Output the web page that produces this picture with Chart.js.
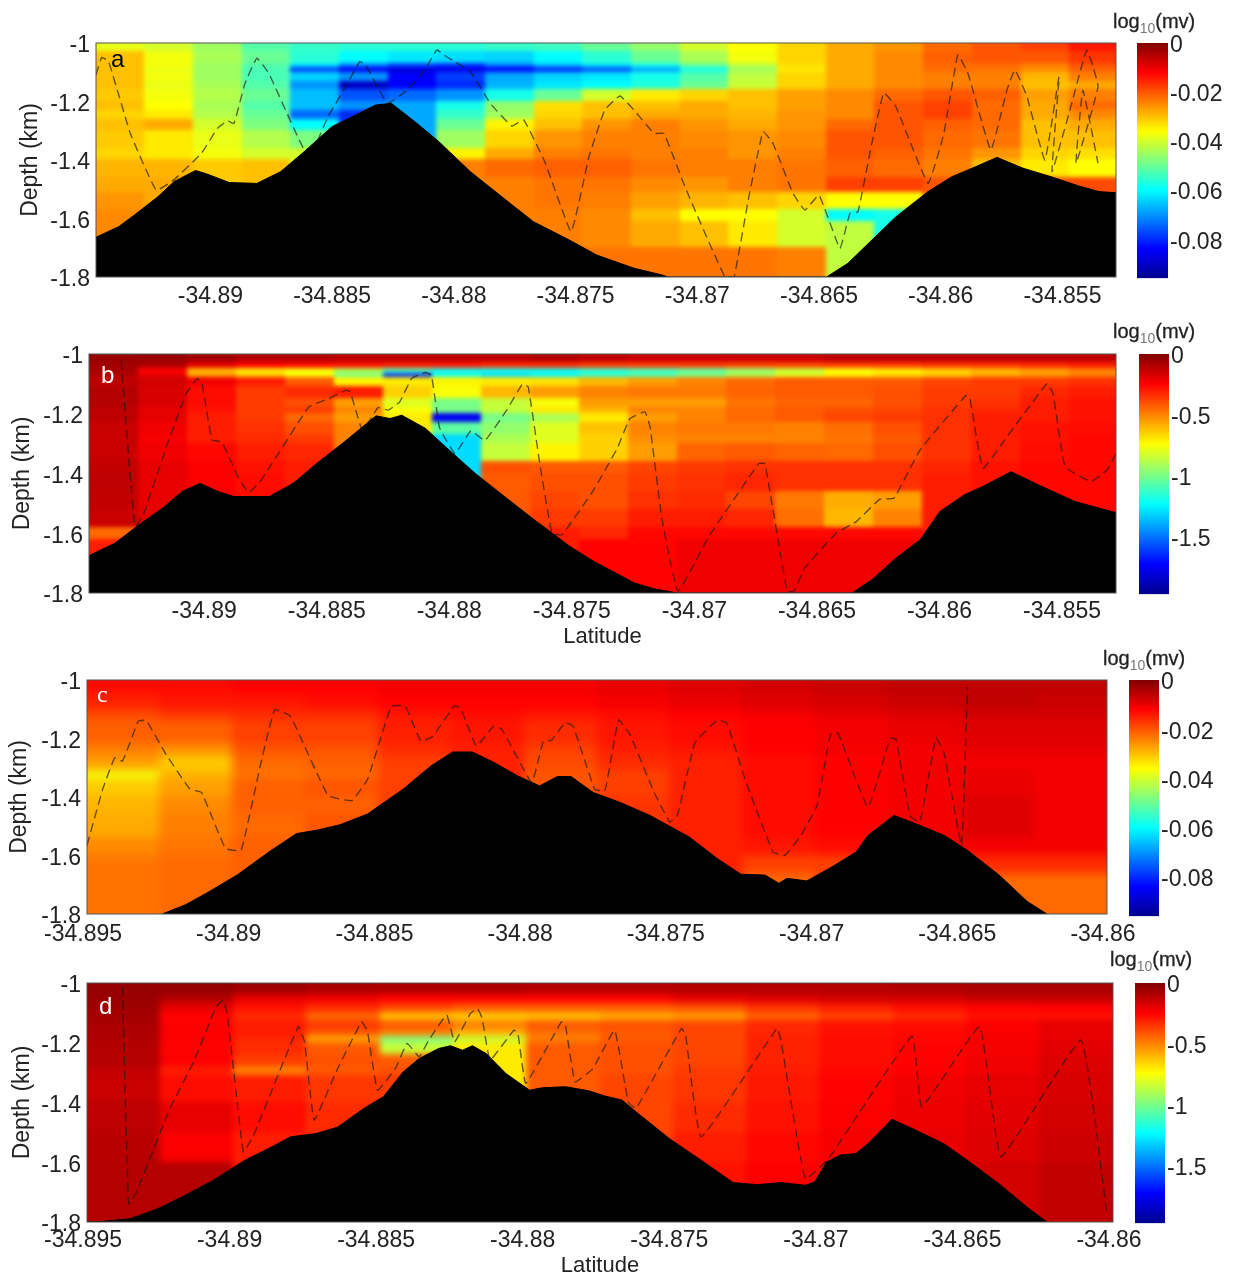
<!DOCTYPE html>
<html lang="en">
<head>
<meta charset="UTF-8">
<title>Depth sections</title>
<script src="https://cdn.jsdelivr.net/npm/chart.js"></script>
<style>
  body { margin: 0; background: #fff; width: 1233px; height: 1276px; position: relative; overflow: hidden; font-family: "Liberation Sans", sans-serif; }
  canvas { position: absolute; }
  .unit { position: absolute; font-size: 20px; line-height: 24px; color: #222; -webkit-text-stroke: 0.3px #222; white-space: nowrap; }
  .unit sub { font-size: 14px; line-height: 0; color: #777; -webkit-text-stroke: 0; }
  .tag { position: absolute; font-size: 24px; line-height: 24px; }
</style>
</head>
<body>
<canvas id="panelA"></canvas><canvas id="barA"></canvas>
<canvas id="panelB"></canvas><canvas id="barB"></canvas>
<canvas id="panelC"></canvas><canvas id="barC"></canvas>
<canvas id="panelD"></canvas><canvas id="barD"></canvas>

<div class="unit" style="left:1113px;top:9px">log<sub>10</sub>(mv)</div>
<div class="unit" style="left:1113px;top:319px">log<sub>10</sub>(mv)</div>
<div class="unit" style="left:1103px;top:646px">log<sub>10</sub>(mv)</div>
<div class="unit" style="left:1110px;top:947px">log<sub>10</sub>(mv)</div>
<div class="tag" style="left:111px;top:47px;color:#000">a</div>
<div class="tag" style="left:101px;top:363px;color:#fff">b</div>
<div class="tag" style="left:97px;top:682px;color:#fff;font-family:'Liberation Serif',serif">c</div>
<div class="tag" style="left:99px;top:994px;color:#fff">d</div>

<script>
  // eixos
  const latTicksAB = [-34.89, -34.885, -34.88, -34.875, -34.87, -34.865, -34.86, -34.855];
  const latTicksCD = [-34.895, -34.89, -34.885, -34.88, -34.875, -34.87, -34.865, -34.86];
  const depthTicks = [-1, -1.2, -1.4, -1.6, -1.8];
  const barTicksSmall = [0, -0.02, -0.04, -0.06, -0.08];
  const barTicksLarge = [0, -0.5, -1, -1.5];
  const jetColors = ['#00008f', '#0000ff', '#00ffff', '#ffff00', '#ff0000', '#800000'];
  const jetStops = [0, 0.125, 0.375, 0.625, 0.875, 1];

  // colunas do mapa de cor
  const heatLatsAB = [-34.8947, -34.8927, -34.8907, -34.8887, -34.8867, -34.8847, -34.8827, -34.8807, -34.8787, -34.8767, -34.8747, -34.8727, -34.8707, -34.8687, -34.8667, -34.8647, -34.8627, -34.8607, -34.8587, -34.8567, -34.8547, -34.8527];
  const heatLatsCD = [-34.895, -34.8925, -34.89, -34.8875, -34.885, -34.8825, -34.88, -34.8775, -34.875, -34.8725, -34.87, -34.8675, -34.865, -34.8625, -34.86];

  const _ = null; // fica embaixo do relevo

  const heatDepthsA = [-1, -1.03, -1.07, -1.085, -1.1, -1.13, -1.16, -1.2, -1.23, -1.26, -1.3, -1.36, -1.4, -1.46, -1.51, -1.57, -1.61, -1.7, -1.8];
  const heatA = [
    [-.038,-.04,-.045,-.052,-.055,-.056,-.056,-.056,-.055,-.054,-.05,-.046,-.04,-.036,-.032,-.028,-.026,-.022,-.02,-.018,-.014],
    [-.03,-.037,-.044,-.05,-.056,-.06,-.062,-.063,-.064,-.06,-.056,-.05,-.044,-.037,-.032,-.028,-.025,-.021,-.02,-.02,-.017],
    [-.03,-.037,-.045,-.052,-.062,-.072,-.078,-.08,-.072,-.066,-.062,-.058,-.05,-.042,-.033,-.028,-.025,-.022,-.022,-.024,-.02],
    [-.03,-.038,-.045,-.053,-.078,-.085,-.088,-.086,-.084,-.08,-.076,-.068,-.058,-.045,-.034,-.028,-.025,-.022,-.023,-.025,-.021],
    [-.03,-.037,-.045,-.053,-.064,-.07,-.084,-.078,-.068,-.064,-.062,-.058,-.052,-.042,-.032,-.028,-.025,-.024,-.024,-.029,-.024],
    [-.03,-.038,-.044,-.052,-.07,-.09,-.084,-.08,-.067,-.062,-.06,-.057,-.05,-.041,-.032,-.028,-.025,-.024,-.024,-.03,-.028],
    [-.031,-.037,-.043,-.05,-.066,-.076,-.074,-.07,-.058,-.05,-.04,-.034,-.032,-.03,-.027,-.025,-.022,-.02,-.021,-.027,-.024],
    [-.03,-.036,-.044,-.052,-.066,-.07,-.068,-.058,-.046,-.033,-.03,-.03,-.028,-.03,-.027,-.025,-.02,-.018,-.022,-.028,-.022],
    [-.032,-.034,-.043,-.05,-.074,-.08,_,-.055,-.045,-.032,-.03,-.028,-.028,-.029,-.026,-.025,-.02,-.018,-.022,-.028,-.025],
    [-.03,-.028,-.04,-.048,-.06,_,_,-.05,-.035,-.03,-.026,-.024,-.026,-.028,-.026,-.022,-.02,-.021,-.022,-.03,-.028],
    [-.031,-.034,-.038,-.043,-.048,_,_,-.045,-.032,-.026,-.024,-.024,-.025,-.026,-.025,-.02,-.02,-.022,-.023,-.03,-.03],
    [-.032,-.034,-.037,-.04,-.04,_,_,-.035,-.028,-.024,-.023,-.024,-.024,-.026,-.024,-.02,-.021,-.023,-.026,-.032,-.033],
    [-.029,-.029,-.031,-.03,_,_,_,-.024,-.022,-.021,-.021,-.023,-.024,-.024,-.023,-.021,-.022,-.024,-.03,-.034,-.036],
    [-.028,-.028,_,_,_,_,_,_,-.024,-.023,-.023,-.025,-.026,-.024,-.023,-.018,-.018,-.02,_,-.02,-.019],
    [-.026,_,_,_,_,_,_,_,_,-.023,-.024,-.027,-.029,-.03,-.032,-.036,-.036,_,_,_,_],
    [-.025,_,_,_,_,_,_,_,_,-.024,-.025,-.03,-.036,-.036,-.04,-.06,-.058,_,_,_,_],
    [-.025,_,_,_,_,_,_,_,_,_,-.025,-.028,-.03,-.034,-.04,-.042,_,_,_,_,_],
    [_,_,_,_,_,_,_,_,_,_,-.023,-.023,-.023,-.023,-.024,_,_,_,_,_,_]
  ];

  const heatDepthsB = [-1, -1.03, -1.05, -1.065, -1.08, -1.11, -1.15, -1.18, -1.2, -1.23, -1.27, -1.3, -1.36, -1.4, -1.46, -1.52, -1.58, -1.62, -1.8];
  const heatB = [
    [-.05,-.05,-.07,-.1,-.1,-.12,-.12,-.12,-.12,-.1,-.12,-.15,-.15,-.15,-.15,-.12,-.12,-.12,-.12,-.12,-.12],
    [-.07,-.09,-.2,-.25,-.27,-.28,-.3,-.3,-.33,-.33,-.36,-.36,-.36,-.38,-.38,-.36,-.36,-.34,-.34,-.32,-.3],
    [-.08,-.25,-.6,-.7,-.75,-.9,-1.1,-1.2,-1.2,-1.2,-1.15,-1.1,-1.05,-.95,-.85,-.75,-.7,-.65,-.6,-.55,-.5],
    [-.1,-.2,-.55,-.65,-.75,-1,-1.65,-1.2,-1.3,-1.25,-1.15,-1.1,-1,-.9,-.8,-.72,-.68,-.65,-.58,-.55,-.5],
    [-.12,-.16,-.22,-.3,-.42,-.72,-.7,-.72,-.7,-.68,-.6,-.55,-.5,-.45,-.42,-.42,-.42,-.38,-.36,-.36,-.34],
    [-.1,-.17,-.27,-.36,-.33,-.3,-.65,-.75,-.6,-.55,-.5,-.48,-.48,-.44,-.42,-.42,-.4,-.36,-.36,-.32,-.3],
    [-.1,-.17,-.27,-.36,-.4,-.55,-.8,-1,-.85,-.75,-.55,-.55,-.55,-.47,-.44,-.44,-.4,-.36,-.34,-.3,-.28],
    [-.12,-.2,-.28,-.36,-.36,-.5,-.75,-1,-.85,-.7,-.6,-.5,-.5,-.45,-.42,-.4,-.38,-.34,-.32,-.3,-.28],
    [-.12,-.2,-.3,-.36,-.45,-.55,-.7,-1.75,-1,-.9,-.7,-.55,-.5,-.45,-.42,-.38,-.36,-.34,-.3,-.3,-.28],
    [-.14,-.22,-.3,-.34,-.4,-.5,_,-1.05,-.95,-.8,-.62,-.5,-.48,-.48,-.5,-.46,-.4,-.34,-.3,-.28,-.27],
    [-.14,-.23,-.3,-.33,-.36,_,_,-1.3,-.9,-.8,-.65,-.52,-.5,-.5,-.5,-.47,-.42,-.34,-.3,-.28,-.26],
    [-.14,-.22,-.26,-.3,-.32,_,_,_,-.85,-.72,-.65,-.55,-.44,-.42,-.44,-.45,-.4,-.34,-.3,-.27,-.26],
    [-.13,-.2,-.24,-.28,-.3,_,_,_,-.4,-.42,-.42,-.38,-.36,-.34,-.34,-.34,-.34,-.32,-.28,-.26,-.26],
    [-.12,-.2,-.24,-.27,_,_,_,_,-.42,-.4,-.4,-.36,-.34,-.32,-.34,-.34,-.34,-.3,_,-.26,-.26],
    [-.13,-.2,_,_,_,_,_,_,-.42,-.38,-.4,-.34,-.33,-.38,-.48,-.58,-.55,_,_,_,-.26],
    [-.14,_,_,_,_,_,_,_,_,-.36,-.36,-.3,-.3,-.32,-.46,-.6,-.5,_,_,_,_],
    [-.45,_,_,_,_,_,_,_,_,-.3,-.32,-.26,-.26,-.26,-.26,-.26,-.26,_,_,_,_],
    [-.3,_,_,_,_,_,_,_,_,_,-.25,-.25,-.22,-.22,-.22,-.22,-.22,_,_,_,_]
  ];

  const heatDepthsC = [-1, -1.05, -1.1, -1.14, -1.22, -1.26, -1.31, -1.34, -1.4, -1.46, -1.54, -1.6, -1.66, -1.8];
  const heatC = [
    [-.013,-.013,-.012,-.012,-.011,-.011,-.011,-.01,-.009,-.008,-.007,-.006,-.006,-.006],
    [-.015,-.014,-.014,-.013,-.012,-.012,-.012,-.011,-.01,-.009,-.008,-.007,-.006,-.007],
    [-.019,-.017,-.016,-.016,-.014,-.013,-.014,-.013,-.012,-.011,-.01,-.009,-.008,-.008],
    [-.021,-.021,-.018,-.018,-.015,-.014,-.016,-.014,-.013,-.012,-.011,-.01,-.009,-.009],
    [-.024,-.026,-.02,-.02,-.016,-.015,-.018,-.015,-.014,-.012,-.011,-.011,-.01,-.01],
    [-.027,-.031,-.022,-.021,-.018,_,-.019,-.016,-.015,-.013,-.012,-.011,-.011,-.011],
    [-.037,-.029,-.023,-.022,-.018,_,-.02,-.018,-.015,-.013,-.012,-.011,-.01,-.011],
    [-.031,-.027,-.021,-.02,_,_,_,-.018,-.015,-.013,-.012,-.011,-.01,-.011],
    [-.029,-.025,-.021,-.021,_,_,_,-.017,-.015,-.013,-.012,-.011,-.009,-.011],
    [-.028,-.024,-.022,-.02,_,_,_,_,-.015,-.013,-.012,-.011,-.009,-.011],
    [-.025,-.023,-.021,_,_,_,_,_,-.015,-.014,-.013,_,-.011,-.011],
    [-.023,-.022,_,_,_,_,_,_,_,-.018,-.018,_,-.016,-.016],
    [-.023,-.022,_,_,_,_,_,_,_,-.022,_,_,-.022,-.022]
  ];

  const heatDepthsD = [-1, -1.04, -1.07, -1.1, -1.125, -1.16, -1.18, -1.2, -1.24, -1.28, -1.31, -1.4, -1.5, -1.6, -1.8];
  const heatD = [
    [-.04,-.04,-.06,-.08,-.09,-.09,-.1,-.1,-.1,-.1,-.1,-.09,-.08,-.08],
    [-.05,-.1,-.2,-.22,-.25,-.25,-.25,-.25,-.2,-.18,-.16,-.16,-.14,-.14],
    [-.06,-.2,-.28,-.33,-.38,-.42,-.42,-.42,-.4,-.34,-.3,-.27,-.25,-.24],
    [-.07,-.25,-.33,-.45,-.62,-.64,-.62,-.58,-.55,-.44,-.38,-.33,-.28,-.28],
    [-.08,-.24,-.3,-.36,-.42,-.5,-.42,-.4,-.38,-.32,-.28,-.27,-.24,-.2],
    [-.09,-.24,-.3,-.42,-.5,-.6,-.46,-.42,-.38,-.32,-.28,-.26,-.24,-.2],
    [-.09,-.24,-.32,-.58,-1,-.85,-.5,-.42,-.38,-.31,-.27,-.26,-.23,-.2],
    [-.1,-.25,-.33,-.42,-.85,-.7,-.42,-.4,-.38,-.31,-.27,-.25,-.23,-.19],
    [-.1,-.24,-.36,-.4,-.42,_,-.42,-.4,-.38,-.31,-.27,-.25,-.22,-.18],
    [-.13,-.3,-.5,-.42,-.4,_,_,-.4,-.36,-.3,-.26,-.24,-.22,-.18],
    [-.14,-.27,-.3,-.35,-.36,_,_,-.38,-.35,-.29,-.25,-.22,-.2,-.17],
    [-.12,-.2,-.27,-.33,_,_,_,_,-.33,-.28,-.24,-.21,-.19,-.16],
    [-.11,-.24,-.3,_,_,_,_,_,-.3,-.26,-.23,-.2,-.18,-.15],
    [-.1,-.1,_,_,_,_,_,_,-.28,-.24,-.22,-.2,-.16,-.13]
  ];

  // relevo
  const terrainLatA = [-34.8947,-34.89377,-34.89312,-34.89215,-34.8915,-34.89061,-34.8902,-34.88923,-34.88809,-34.88712,-34.88614,-34.88501,-34.88403,-34.88322,-34.88257,-34.8816,-34.88062,-34.87932,-34.87786,-34.87673,-34.87527,-34.87413,-34.8726,-34.87145,-34.8712,-34.86469,-34.86381,-34.86282,-34.86184,-34.86052,-34.85954,-34.85857,-34.85769,-34.85662,-34.85547,-34.85432,-34.8535,-34.8528];
  const terrainDepthA = [-1.664,-1.628,-1.588,-1.525,-1.474,-1.436,-1.446,-1.477,-1.48,-1.44,-1.371,-1.286,-1.246,-1.212,-1.206,-1.269,-1.337,-1.44,-1.537,-1.611,-1.673,-1.725,-1.77,-1.793,-1.8,-1.8,-1.753,-1.673,-1.594,-1.508,-1.457,-1.423,-1.391,-1.428,-1.457,-1.489,-1.508,-1.512];
  const terrainLatB = [-34.8947,-34.89363,-34.89267,-34.8917,-34.8909,-34.89017,-34.88944,-34.8888,-34.88734,-34.88637,-34.8854,-34.88428,-34.88299,-34.88242,-34.88194,-34.88097,-34.88008,-34.87895,-34.87766,-34.87653,-34.87508,-34.87411,-34.87246,-34.87165,-34.8707,-34.86357,-34.86275,-34.86178,-34.86079,-34.85998,-34.859,-34.8582,-34.85708,-34.85594,-34.85447,-34.8528];
  const terrainDepthB = [-1.675,-1.633,-1.572,-1.516,-1.46,-1.433,-1.46,-1.477,-1.477,-1.433,-1.366,-1.294,-1.207,-1.216,-1.205,-1.249,-1.316,-1.399,-1.483,-1.555,-1.644,-1.694,-1.766,-1.786,-1.8,-1.8,-1.755,-1.683,-1.622,-1.527,-1.472,-1.442,-1.394,-1.439,-1.494,-1.531];
  const terrainLatC = [-34.89242,-34.89161,-34.8908,-34.88985,-34.88876,-34.88781,-34.88713,-34.88632,-34.88537,-34.88415,-34.8832,-34.88245,-34.88178,-34.88103,-34.88022,-34.87947,-34.87886,-34.87839,-34.87764,-34.87672,-34.87568,-34.87433,-34.87338,-34.87256,-34.87173,-34.87126,-34.87098,-34.8703,-34.86942,-34.86861,-34.8682,-34.86731,-34.86642,-34.86559,-34.86479,-34.8637,-34.86274,-34.86206];
  const terrainDepthC = [-1.8,-1.768,-1.723,-1.667,-1.588,-1.525,-1.514,-1.495,-1.458,-1.373,-1.294,-1.246,-1.246,-1.282,-1.328,-1.362,-1.33,-1.33,-1.384,-1.418,-1.463,-1.537,-1.61,-1.664,-1.667,-1.695,-1.678,-1.687,-1.638,-1.588,-1.531,-1.463,-1.497,-1.531,-1.582,-1.667,-1.757,-1.8];
  const terrainLatD = [-34.895,-34.89446,-34.89352,-34.89257,-34.89176,-34.89069,-34.88961,-34.8888,-34.88806,-34.88718,-34.88644,-34.88556,-34.88489,-34.88421,-34.88367,-34.883,-34.8826,-34.88219,-34.88185,-34.88138,-34.88071,-34.8799,-34.87949,-34.87868,-34.87788,-34.87734,-34.87675,-34.8762,-34.87513,-34.87405,-34.87296,-34.87214,-34.87132,-34.8705,-34.87018,-34.86977,-34.86931,-34.86877,-34.8683,-34.86754,-34.86672,-34.86577,-34.86497,-34.86389,-34.86293,-34.86225];
  const terrainDepthD = [-1.8,-1.798,-1.789,-1.755,-1.716,-1.66,-1.593,-1.554,-1.515,-1.504,-1.482,-1.42,-1.381,-1.297,-1.253,-1.219,-1.21,-1.225,-1.21,-1.236,-1.303,-1.359,-1.351,-1.347,-1.361,-1.378,-1.392,-1.437,-1.521,-1.593,-1.668,-1.675,-1.668,-1.677,-1.666,-1.599,-1.576,-1.571,-1.532,-1.456,-1.493,-1.538,-1.593,-1.672,-1.75,-1.8];

  // trajetoria tracejada
  const trackLatA = [-34.8947,-34.89446,-34.89418,-34.89329,-34.89223,-34.8915,-34.89037,-34.88971,-34.8893,-34.88903,-34.88858,-34.88809,-34.8876,-34.88614,-34.88566,-34.88517,-34.88444,-34.88387,-34.88363,-34.88273,-34.88192,-34.88119,-34.8807,-34.8803,-34.87932,-34.87851,-34.87762,-34.87713,-34.87624,-34.87518,-34.87445,-34.8738,-34.87318,-34.8726,-34.87178,-34.87137,-34.87051,-34.86968,-34.86886,-34.86849,-34.86788,-34.8673,-34.86689,-34.86607,-34.86558,-34.865,-34.86414,-34.86373,-34.8634,-34.86283,-34.86234,-34.86184,-34.86052,-34.85987,-34.8593,-34.85888,-34.85794,-34.85728,-34.85695,-34.85646,-34.85572,-34.85514,-34.85543,-34.85473,-34.854,-34.85354,-34.85444,-34.85416,-34.85354];
  const trackDepthA = [-1.109,-1.049,-1.064,-1.309,-1.503,-1.468,-1.377,-1.292,-1.266,-1.275,-1.138,-1.052,-1.104,-1.366,-1.343,-1.252,-1.149,-1.064,-1.075,-1.206,-1.161,-1.092,-1.024,-1.047,-1.098,-1.206,-1.284,-1.263,-1.411,-1.645,-1.389,-1.229,-1.181,-1.229,-1.309,-1.309,-1.491,-1.651,-1.8,-1.8,-1.525,-1.303,-1.343,-1.514,-1.571,-1.52,-1.702,-1.583,-1.577,-1.343,-1.17,-1.218,-1.48,-1.309,-1.041,-1.104,-1.366,-1.161,-1.092,-1.183,-1.4,-1.115,-1.44,-1.241,-1.024,-1.149,-1.411,-1.161,-1.411];
  const trackLatB = [-34.89339,-34.89283,-34.89251,-34.89154,-34.89073,-34.89028,-34.89009,-34.88968,-34.88928,-34.88863,-34.88818,-34.88767,-34.88573,-34.88492,-34.8842,-34.88404,-34.88355,-34.88307,-34.88291,-34.8825,-34.88202,-34.88154,-34.88097,-34.88073,-34.88041,-34.88025,-34.87976,-34.87912,-34.87855,-34.87766,-34.87702,-34.87678,-34.87629,-34.87581,-34.8754,-34.87411,-34.87315,-34.87263,-34.87202,-34.87181,-34.87132,-34.87067,-34.86941,-34.86737,-34.86712,-34.86622,-34.86594,-34.86549,-34.86422,-34.8634,-34.86243,-34.86186,-34.86079,-34.85892,-34.85876,-34.85823,-34.85725,-34.85561,-34.85537,-34.85488,-34.85382,-34.85316,-34.8528];
  const trackDepthB = [-1.021,-1.577,-1.544,-1.31,-1.132,-1.082,-1.099,-1.288,-1.294,-1.41,-1.464,-1.422,-1.177,-1.149,-1.121,-1.127,-1.255,-1.199,-1.179,-1.188,-1.16,-1.082,-1.062,-1.071,-1.244,-1.271,-1.333,-1.257,-1.29,-1.188,-1.101,-1.11,-1.377,-1.6,-1.605,-1.455,-1.316,-1.216,-1.194,-1.244,-1.555,-1.794,-1.611,-1.366,-1.368,-1.794,-1.794,-1.716,-1.6,-1.561,-1.486,-1.483,-1.321,-1.138,-1.149,-1.383,-1.277,-1.099,-1.132,-1.377,-1.427,-1.388,-1.333];
  const trackLatC = [-34.895,-34.89446,-34.89405,-34.89378,-34.89324,-34.89297,-34.89229,-34.89147,-34.89107,-34.89025,-34.88971,-34.88903,-34.88856,-34.88802,-34.88673,-34.88591,-34.88537,-34.88456,-34.88408,-34.88354,-34.88313,-34.88239,-34.88218,-34.88164,-34.88103,-34.88076,-34.87974,-34.87934,-34.87906,-34.87859,-34.87832,-34.87758,-34.87723,-34.8769,-34.87675,-34.87637,-34.87554,-34.875,-34.87474,-34.87414,-34.87338,-34.87304,-34.87242,-34.87146,-34.87105,-34.8705,-34.86995,-34.86949,-34.86923,-34.8682,-34.86744,-34.86724,-34.86676,-34.86642,-34.86587,-34.86559,-34.86499,-34.86479];
  const trackDepthC = [-1.565,-1.373,-1.266,-1.277,-1.141,-1.138,-1.254,-1.373,-1.384,-1.576,-1.582,-1.282,-1.102,-1.124,-1.395,-1.412,-1.339,-1.09,-1.09,-1.209,-1.192,-1.088,-1.096,-1.226,-1.156,-1.169,-1.35,-1.209,-1.206,-1.145,-1.158,-1.373,-1.379,-1.203,-1.136,-1.186,-1.384,-1.486,-1.463,-1.215,-1.138,-1.147,-1.339,-1.588,-1.599,-1.531,-1.429,-1.186,-1.181,-1.435,-1.198,-1.203,-1.463,-1.486,-1.198,-1.249,-1.565,-1.023];
  const trackLatD = [-34.89379,-34.89358,-34.89331,-34.89217,-34.89136,-34.89062,-34.89035,-34.89021,-34.88967,-34.88934,-34.88779,-34.88758,-34.88725,-34.8865,-34.88563,-34.88543,-34.88509,-34.88448,-34.88408,-34.88367,-34.88334,-34.88273,-34.88246,-34.88192,-34.88168,-34.88152,-34.88125,-34.88044,-34.8803,-34.88003,-34.87882,-34.87868,-34.87835,-34.87774,-34.877,-34.87654,-34.87627,-34.87472,-34.87458,-34.87405,-34.87146,-34.87132,-34.8705,-34.8697,-34.86686,-34.86652,-34.86455,-34.86382,-34.86109,-34.8602];
  const trackDepthD = [-1.012,-1.739,-1.699,-1.42,-1.264,-1.085,-1.057,-1.107,-1.565,-1.515,-1.146,-1.197,-1.459,-1.297,-1.13,-1.163,-1.359,-1.286,-1.202,-1.247,-1.191,-1.107,-1.197,-1.102,-1.085,-1.118,-1.258,-1.158,-1.169,-1.336,-1.13,-1.141,-1.331,-1.286,-1.158,-1.398,-1.42,-1.152,-1.175,-1.515,-1.152,-1.197,-1.655,-1.588,-1.179,-1.415,-1.146,-1.582,-1.191,-1.778];

  const barMinSmall = -0.0959;
  const barMinLarge = -1.97;

  function jetColor(value, min) {
    const t = Math.min(1, Math.max(0, 1 - value / min));
    let i = 0;
    while (i < jetStops.length - 2 && t > jetStops[i + 1]) i++;
    const f = (t - jetStops[i]) / (jetStops[i + 1] - jetStops[i]);
    const a = hex(jetColors[i]);
    const b = hex(jetColors[i + 1]);
    return 'rgb(' + a.map((c, k) => Math.round(c + (b[k] - c) * f)).join(',') + ')';
  }

  function hex(c) {
    return [1, 3, 5].map(p => parseInt(c.substr(p, 2), 16));
  }

  // desenha as celulas do mapa usando as escalas do grafico
  const heatPlugin = {
    id: 'heat',
    beforeDatasetsDraw(chart, args, opts) {
      const { ctx, chartArea: area, scales: { x, y } } = chart;
      const off = document.createElement('canvas');
      off.width = chart.width;
      off.height = chart.height;
      const offCtx = off.getContext('2d');
      const last = [];
      opts.rows.forEach((row, r) => {
        row.forEach((v, c) => {
          const value = v === null ? last[c] : v;
          if (value === undefined || value === null) return;
          last[c] = value;
          let left = x.getPixelForValue(opts.lats[c]);
          let right = x.getPixelForValue(opts.lats[c + 1]);
          let top = y.getPixelForValue(opts.depths[r]);
          let bottom = y.getPixelForValue(opts.depths[r + 1]);
          // passa um pouco da borda para o blur nao clarear o contorno
          if (c === 0) left -= 10;
          if (c === row.length - 1) right += 10;
          if (r === 0) top -= 10;
          if (r === opts.rows.length - 1) bottom += 10;
          offCtx.fillStyle = jetColor(value, opts.min);
          offCtx.fillRect(Math.floor(left), Math.floor(top), Math.ceil(right - left) + 1, Math.ceil(bottom - top) + 1);
        });
      });
      ctx.save();
      ctx.beginPath();
      ctx.rect(area.left, area.top, area.width, area.height);
      ctx.clip();
      ctx.filter = 'blur(' + opts.blur + 'px)';
      ctx.drawImage(off, 0, 0);
      ctx.restore();
    },
    afterDraw(chart) {
      const { ctx, chartArea: area } = chart;
      ctx.save();
      ctx.strokeStyle = '#555';
      ctx.lineWidth = 1;
      ctx.strokeRect(area.left, area.top, area.width, area.height);
      ctx.restore();
    }
  };

  function zip(xs, ys) {
    return xs.map((v, i) => ({ x: v, y: ys[i] }));
  }

  function drawPanel(id, box, latMin, latMax, latTicks, heat, terrain, track, titleGap, showLatitude) {
    const canvas = document.getElementById(id);
    canvas.width = 1233;
    canvas.height = box.height;
    canvas.style.left = '0px';
    canvas.style.top = box.top + 'px';

    new Chart(canvas, {
      type: 'scatter',
      data: {
        datasets: [
          {
            data: track,
            showLine: true,
            pointRadius: 0,
            borderColor: 'rgba(25,25,25,0.65)',
            borderWidth: 1.4,
            borderDash: [9, 5],
            tension: 0.1
          },
          {
            data: terrain,
            showLine: true,
            pointRadius: 0,
            borderColor: '#000',
            borderWidth: 1,
            backgroundColor: '#000',
            fill: 'start'
          }
        ]
      },
      plugins: [heatPlugin],
      options: {
        responsive: false,
        animation: false,
        layout: { padding: { top: box.plotTop - box.top, right: 1233 - box.plotRight } },
        plugins: { legend: { display: false }, tooltip: { enabled: false }, heat },
        scales: {
          x: {
            type: 'linear',
            min: latMin,
            max: latMax,
            afterBuildTicks: s => { s.ticks = latTicks.map(v => ({ value: v })); },
            afterFit: s => { s.height = box.top + box.height - box.plotBottom; },
            grid: { display: false, drawTicks: false },
            border: { display: false },
            title: { display: showLatitude, text: 'Latitude', color: '#222', font: { size: 22 }, padding: 0 },
            ticks: {
              callback: v => String(v),
              autoSkip: false,
              maxRotation: 0,
              color: '#222',
              padding: box.tickGap,
              labelOffset: box.labelOffset,
              font: { size: 23 }
            }
          },
          y: {
            min: -1.8,
            max: -1,
            afterBuildTicks: s => { s.ticks = depthTicks.map(v => ({ value: v })); },
            afterFit: s => { s.width = box.plotLeft; },
            grid: { display: false, drawTicks: false },
            border: { display: false },
            title: { display: true, text: 'Depth (km)', color: '#222', font: { size: 23 }, padding: { top: titleGap, bottom: 0 } },
            ticks: {
              callback: v => String(v),
              color: '#222',
              padding: 6,
              labelOffset: 3,
              font: { size: 23 }
            }
          }
        }
      }
    });
  }

  function drawBar(id, box, min, ticks) {
    const canvas = document.getElementById(id);
    const width = 1233 - box.left;
    canvas.width = width;
    canvas.height = box.height;
    canvas.style.left = box.left + 'px';
    canvas.style.top = box.top + 'px';

    new Chart(canvas, {
      type: 'bar',
      data: {
        labels: ['log10(mv)'],
        datasets: [{
          data: [[min, 0]],
          barPercentage: 1,
          categoryPercentage: 1,
          backgroundColor: ctx => {
            const area = ctx.chart.chartArea;
            if (!area) return '#000';
            const g = ctx.chart.ctx.createLinearGradient(0, area.bottom, 0, area.top);
            jetStops.forEach((s, i) => g.addColorStop(s, jetColors[i]));
            return g;
          }
        }]
      },
      options: {
        responsive: false,
        animation: false,
        layout: { padding: { top: box.plotTop - box.top } },
        plugins: { legend: { display: false }, tooltip: { enabled: false } },
        scales: {
          x: { display: false },
          y: {
            position: 'right',
            min,
            max: 0,
            afterBuildTicks: s => { s.ticks = ticks.map(v => ({ value: v })); },
            afterFit: s => { s.width = width - box.barWidth; },
            grid: { display: false, drawTicks: false },
            border: { display: false },
            ticks: { callback: v => String(v), color: '#222', padding: 2, labelOffset: 3, font: { size: 23 } }
          }
        }
      }
    });
  }

  drawPanel('panelA', { top: 0, height: 320, plotLeft: 96, plotRight: 1116, plotTop: 43, plotBottom: 277, labelOffset: 0, tickGap: 6 },
    -34.8947, -34.8528, latTicksAB,
    { rows: heatA, lats: heatLatsAB, depths: heatDepthsA, min: barMinSmall, blur: 2 },
    zip(terrainLatA, terrainDepthA), zip(trackLatA, trackDepthA), 17, false);
  drawPanel('panelB', { top: 320, height: 330, plotLeft: 89, plotRight: 1116, plotTop: 354, plotBottom: 593, labelOffset: 0, tickGap: 5 },
    -34.8947, -34.8528, latTicksAB,
    { rows: heatB, lats: heatLatsAB, depths: heatDepthsB, min: barMinLarge, blur: 2 },
    zip(terrainLatB, terrainDepthB), zip(trackLatB, trackDepthB), 9, true);
  drawPanel('panelC', { top: 650, height: 298, plotLeft: 87, plotRight: 1107, plotTop: 680, plotBottom: 914, labelOffset: -4, tickGap: 7 },
    -34.895, -34.86, latTicksCD,
    { rows: heatC, lats: heatLatsCD, depths: heatDepthsC, min: barMinSmall, blur: 5 },
    zip(terrainLatC, terrainDepthC), zip(trackLatC, trackDepthC), 6, false);
  drawPanel('panelD', { top: 950, height: 329, plotLeft: 87, plotRight: 1113, plotTop: 983, plotBottom: 1222, labelOffset: -4, tickGap: 5 },
    -34.895, -34.86, latTicksCD,
    { rows: heatD, lats: heatLatsCD, depths: heatDepthsD, min: barMinLarge, blur: 3 },
    zip(terrainLatD, terrainDepthD), zip(trackLatD, trackDepthD), 9, true);

  drawBar('barA', { left: 1137, top: 18, height: 276, plotTop: 43, barWidth: 31 }, barMinSmall, barTicksSmall);
  drawBar('barB', { left: 1139, top: 329, height: 281, plotTop: 354, barWidth: 30 }, barMinLarge, barTicksLarge);
  drawBar('barC', { left: 1129, top: 655, height: 277, plotTop: 680, barWidth: 30 }, barMinSmall, barTicksSmall);
  drawBar('barD', { left: 1135, top: 958, height: 281, plotTop: 983, barWidth: 30 }, barMinLarge, barTicksLarge);
</script>
</body>
</html>
